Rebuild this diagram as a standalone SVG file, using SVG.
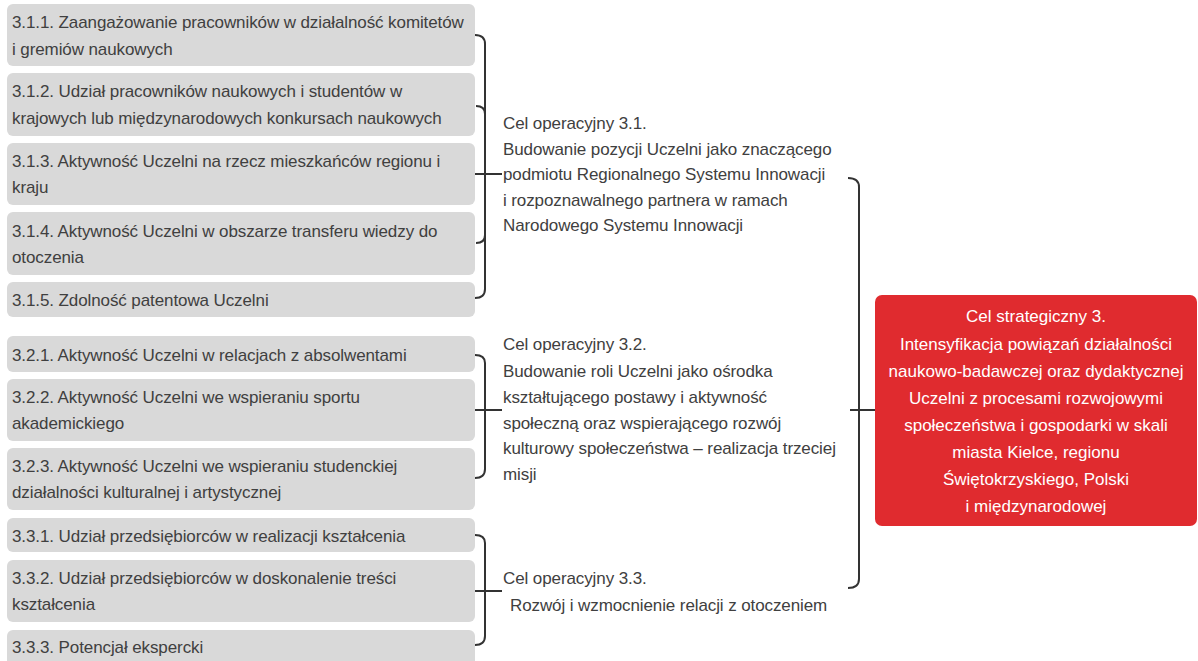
<svg xmlns="http://www.w3.org/2000/svg" width="1198" height="661" viewBox="0 0 1198 661">
<style>
.box{fill:#d9d9d9;}
.t{font-family:"Liberation Sans",Arial,sans-serif;font-size:17px;fill:#404040;letter-spacing:-0.1px;}
.w{font-family:"Liberation Sans",Arial,sans-serif;font-size:17px;fill:#ffffff;text-anchor:middle;}
.br{fill:none;stroke:#333333;stroke-width:2;}
</style>
<rect width="1198" height="661" fill="#ffffff"/>
<g id="n311"><rect class="box" x="7" y="4" width="468" height="62" rx="6"/><text class="t" x="12" y="28">3.1.1. Zaangażowanie pracowników w działalność komitetów</text><text class="t" x="12" y="55">i gremiów naukowych</text></g>
<g id="n312"><rect class="box" x="7" y="73" width="468" height="63" rx="6"/><text class="t" x="12" y="97">3.1.2. Udział pracowników naukowych i studentów w</text><text class="t" x="12" y="124">krajowych lub międzynarodowych konkursach naukowych</text></g>
<g id="n313"><rect class="box" x="7" y="143" width="468" height="62" rx="6"/><text class="t" x="12" y="167">3.1.3. Aktywność Uczelni na rzecz mieszkańców regionu i</text><text class="t" x="12" y="193">kraju</text></g>
<g id="n314"><rect class="box" x="7" y="212" width="468" height="63" rx="6"/><text class="t" x="12" y="237">3.1.4. Aktywność Uczelni w obszarze transferu wiedzy do</text><text class="t" x="12" y="263">otoczenia</text></g>
<g id="n315"><rect class="box" x="7" y="282" width="468" height="35" rx="6"/><text class="t" x="12" y="306">3.1.5. Zdolność patentowa Uczelni</text></g>
<g id="n321"><rect class="box" x="7" y="336" width="468" height="36" rx="6"/><text class="t" x="12" y="361">3.2.1. Aktywność Uczelni w relacjach z absolwentami</text></g>
<g id="n322"><rect class="box" x="7" y="379" width="468" height="62" rx="6"/><text class="t" x="12" y="403">3.2.2. Aktywność Uczelni we wspieraniu sportu</text><text class="t" x="12" y="429">akademickiego</text></g>
<g id="n323"><rect class="box" x="7" y="448" width="468" height="62" rx="6"/><text class="t" x="12" y="472">3.2.3. Aktywność Uczelni we wspieraniu studenckiej</text><text class="t" x="12" y="498">działalności kulturalnej i artystycznej</text></g>
<g id="n331"><rect class="box" x="7" y="518" width="468" height="34" rx="6"/><text class="t" x="12" y="542">3.3.1. Udział przedsiębiorców w realizacji kształcenia</text></g>
<g id="n332"><rect class="box" x="7" y="560" width="468" height="62" rx="6"/><text class="t" x="12" y="584">3.3.2. Udział przedsiębiorców w doskonalenie treści</text><text class="t" x="12" y="610">kształcenia</text></g>
<g id="n333"><rect class="box" x="7" y="630" width="468" height="40" rx="6"/><text class="t" x="12" y="653">3.3.3. Potencjał ekspercki</text></g>
<g id="c31"><text class="t" x="503" y="129">Cel operacyjny 3.1.</text><text class="t" x="503" y="155">Budowanie pozycji Uczelni jako znaczącego</text><text class="t" x="503" y="180">podmiotu Regionalnego Systemu Innowacji</text><text class="t" x="503" y="206">i rozpoznawalnego partnera w ramach</text><text class="t" x="503" y="231">Narodowego Systemu Innowacji</text></g>
<g id="c32"><text class="t" x="503" y="350">Cel operacyjny 3.2.</text><text class="t" x="503" y="377">Budowanie roli Uczelni jako ośrodka</text><text class="t" x="503" y="403">kształtującego postawy i aktywność</text><text class="t" x="503" y="429">społeczną oraz wspierającego rozwój</text><text class="t" x="503" y="454">kulturowy społeczeństwa – realizacja trzeciej</text><text class="t" x="503" y="480">misji</text></g>
<g id="c33"><text class="t" x="503" y="584">Cel operacyjny 3.3.</text><text class="t" x="510" y="611">Rozwój i wzmocnienie relacji z otoczeniem</text></g>
<g id="s3"><rect x="875" y="295" width="322" height="231" rx="7" fill="#e02b2f"/>
<text class="w" x="1036" y="322">Cel strategiczny 3.</text>
<text class="w" x="1036" y="350">Intensyfikacja powiązań działalności</text>
<text class="w" x="1036" y="377">naukowo-badawczej oraz dydaktycznej</text>
<text class="w" x="1036" y="404">Uczelni z procesami rozwojowymi</text>
<text class="w" x="1036" y="431">społeczeństwa i gospodarki w skali</text>
<text class="w" x="1036" y="458">miasta Kielce, regionu</text>
<text class="w" x="1036" y="485">Świętokrzyskiego, Polski</text>
<text class="w" x="1036" y="512">i międzynarodowej</text></g>
<g id="connectors">
<path class="br" d="M475,35 Q485,35 485,44 V289 Q485,298 475,298"/>
<path class="br" d="M476,106 Q485,106 485,114 M485,235 Q485,243 476,243"/>
<path class="br" d="M475,174 H502"/>
<path class="br" d="M475,355 Q485,355 485,363 V469 Q485,478 475,478"/>
<path class="br" d="M475,410 H502"/>
<path class="br" d="M475,535 Q485,535 485,543 V636 Q485,645 475,645"/>
<path class="br" d="M475,591 H502"/>
<path class="br" d="M848,178 Q859,178 859,187 V579 Q859,588 848,588"/>
<path class="br" d="M850,410 H875"/>
</g>
</svg>
